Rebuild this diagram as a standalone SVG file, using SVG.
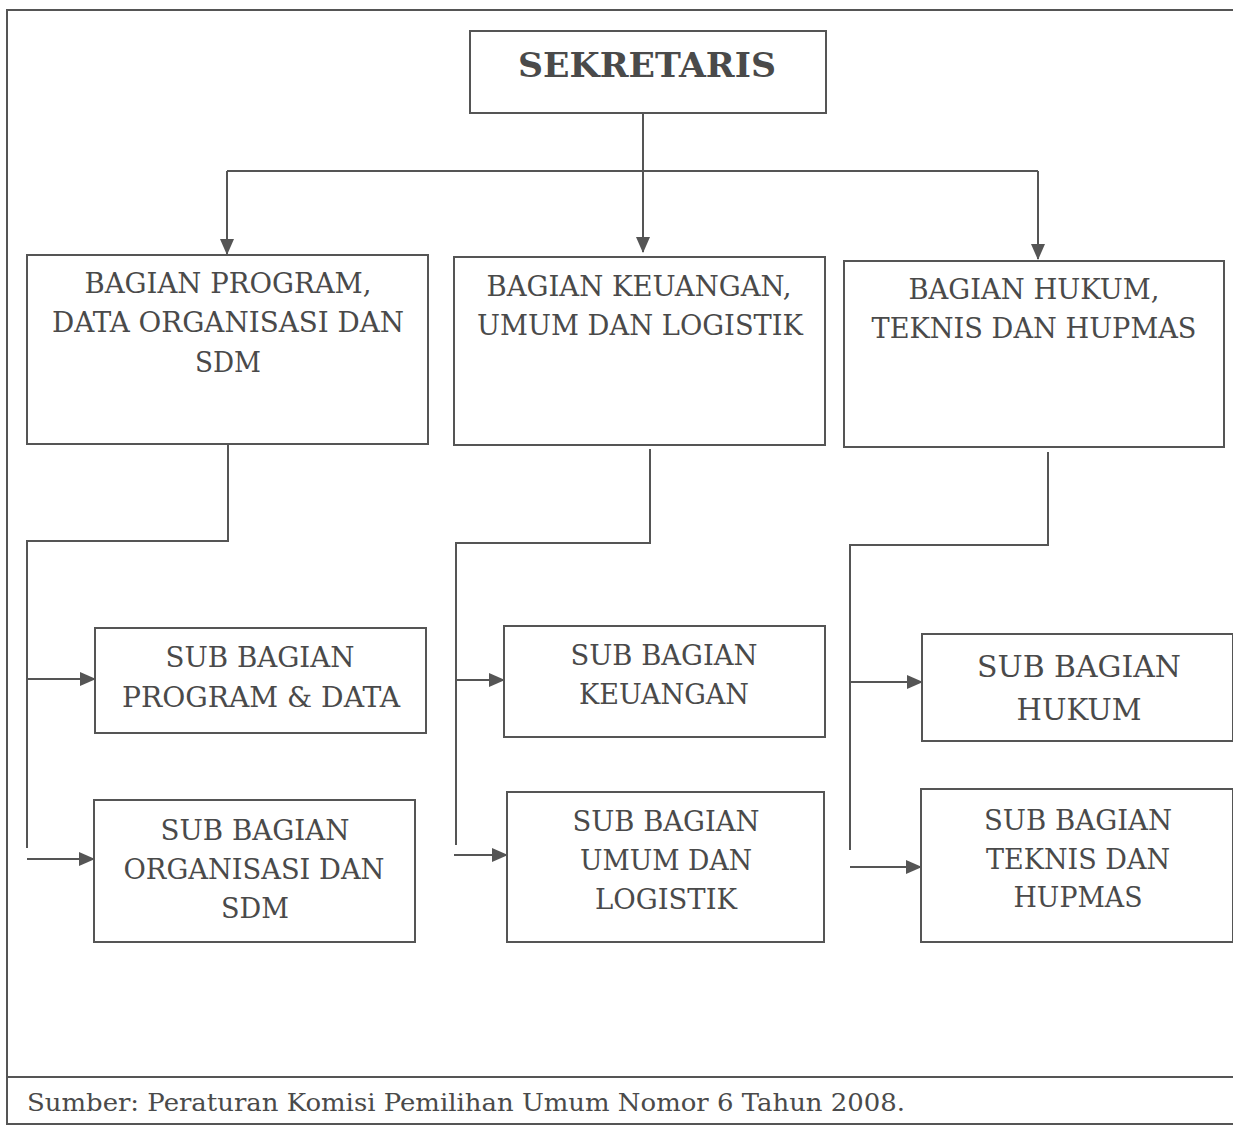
<svg xmlns="http://www.w3.org/2000/svg" width="1233" height="1126" viewBox="0 0 1233 1126">
<style>
.box{fill:#fff;stroke:#555;stroke-width:2}
.frame{fill:none;stroke:#555;stroke-width:2}
.conn{fill:none;stroke:#555;stroke-width:2}
.t{font-family:"DejaVu Serif","Liberation Serif",serif;font-size:27px;fill:#4a4a4a;text-anchor:middle}
.tb{font-family:"DejaVu Serif","Liberation Serif",serif;font-size:34px;font-weight:bold;fill:#4a4a4a;text-anchor:middle}
.cap{font-family:"DejaVu Serif","Liberation Serif",serif;font-size:24px;fill:#4a4a4a}
</style>
<defs>
<marker id="ah" markerWidth="16" markerHeight="14" refX="15" refY="7" orient="auto" markerUnits="userSpaceOnUse" viewBox="0 0 16 14">
<path d="M0,0 L16,7 L0,14 z" fill="#555"/>
</marker>
</defs>
<rect width="1233" height="1126" fill="#fff"/>
<g id="frame">
<path class="frame" d="M1233,10 H7 V1124 H1233"/>
<line class="frame" x1="7" y1="1077" x2="1233" y2="1077"/>
</g>
<g id="connectors">
<line class="conn" x1="643" y1="113" x2="643" y2="252" marker-end="url(#ah)"/>
<line class="conn" x1="227" y1="171" x2="1038" y2="171"/>
<line class="conn" x1="227" y1="171" x2="227" y2="254" marker-end="url(#ah)"/>
<line class="conn" x1="1038" y1="171" x2="1038" y2="259" marker-end="url(#ah)"/>
<path class="conn" d="M228,444 V541 H27 V848"/>
<line class="conn" x1="27" y1="679" x2="95" y2="679" marker-end="url(#ah)"/>
<line class="conn" x1="27" y1="859" x2="94" y2="859" marker-end="url(#ah)"/>
<path class="conn" d="M650,449 V543 H456 V845"/>
<line class="conn" x1="456" y1="680" x2="504" y2="680" marker-end="url(#ah)"/>
<line class="conn" x1="454" y1="855" x2="507" y2="855" marker-end="url(#ah)"/>
<path class="conn" d="M1048,452 V545 H850 V850"/>
<line class="conn" x1="850" y1="682" x2="922" y2="682" marker-end="url(#ah)"/>
<line class="conn" x1="850" y1="867" x2="921" y2="867" marker-end="url(#ah)"/>
</g>
<g id="sekretaris">
<rect class="box" x="470" y="31" width="356" height="82"/>
<text class="tb" x="647" y="77" textLength="258" lengthAdjust="spacingAndGlyphs">SEKRETARIS</text>
</g>
<g id="bagian-program">
<rect class="box" x="27" y="255" width="401" height="189"/>
<text class="t" x="228" y="293" textLength="287" lengthAdjust="spacingAndGlyphs">BAGIAN PROGRAM,</text>
<text class="t" x="228" y="332" textLength="352" lengthAdjust="spacingAndGlyphs">DATA ORGANISASI DAN</text>
<text class="t" x="228" y="372" textLength="66" lengthAdjust="spacingAndGlyphs">SDM</text>
</g>
<g id="bagian-keuangan">
<rect class="box" x="454" y="257" width="371" height="188"/>
<text class="t" x="639" y="296" textLength="305" lengthAdjust="spacingAndGlyphs">BAGIAN KEUANGAN,</text>
<text class="t" x="640" y="335" textLength="326" lengthAdjust="spacingAndGlyphs">UMUM DAN LOGISTIK</text>
</g>
<g id="bagian-hukum">
<rect class="box" x="844" y="261" width="380" height="186"/>
<text class="t" x="1034" y="299" textLength="251" lengthAdjust="spacingAndGlyphs">BAGIAN HUKUM,</text>
<text class="t" x="1034" y="338" textLength="325" lengthAdjust="spacingAndGlyphs">TEKNIS DAN HUPMAS</text>
</g>
<g id="sub-program-data">
<rect class="box" x="95" y="628" width="331" height="105"/>
<text class="t" x="260" y="667" textLength="189" lengthAdjust="spacingAndGlyphs">SUB BAGIAN</text>
<text class="t" x="261" y="707" textLength="278" lengthAdjust="spacingAndGlyphs">PROGRAM &amp; DATA</text>
</g>
<g id="sub-organisasi-sdm">
<rect class="box" x="94" y="800" width="321" height="142"/>
<text class="t" x="255" y="840" textLength="189" lengthAdjust="spacingAndGlyphs">SUB BAGIAN</text>
<text class="t" x="254" y="879" textLength="261" lengthAdjust="spacingAndGlyphs">ORGANISASI DAN</text>
<text class="t" x="255" y="918" textLength="68" lengthAdjust="spacingAndGlyphs">SDM</text>
</g>
<g id="sub-keuangan">
<rect class="box" x="504" y="626" width="321" height="111"/>
<text class="t" x="664" y="665" textLength="187" lengthAdjust="spacingAndGlyphs">SUB BAGIAN</text>
<text class="t" x="664" y="704" textLength="170" lengthAdjust="spacingAndGlyphs">KEUANGAN</text>
</g>
<g id="sub-umum-logistik">
<rect class="box" x="507" y="792" width="317" height="150"/>
<text class="t" x="666" y="831" textLength="187" lengthAdjust="spacingAndGlyphs">SUB BAGIAN</text>
<text class="t" x="666" y="870" textLength="172" lengthAdjust="spacingAndGlyphs">UMUM DAN</text>
<text class="t" x="666" y="909" textLength="142" lengthAdjust="spacingAndGlyphs">LOGISTIK</text>
</g>
<g id="sub-hukum">
<rect class="box" x="922" y="634" width="311" height="107"/>
<text class="t" x="1079" y="677" textLength="204" lengthAdjust="spacingAndGlyphs" style="font-size:30px">SUB BAGIAN</text>
<text class="t" x="1079" y="720" textLength="125" lengthAdjust="spacingAndGlyphs" style="font-size:30px">HUKUM</text>
</g>
<g id="sub-teknis-hupmas">
<rect class="box" x="921" y="789" width="312" height="153"/>
<text class="t" x="1078" y="830" textLength="188" lengthAdjust="spacingAndGlyphs">SUB BAGIAN</text>
<text class="t" x="1078" y="869" textLength="184" lengthAdjust="spacingAndGlyphs">TEKNIS DAN</text>
<text class="t" x="1078" y="907" textLength="129" lengthAdjust="spacingAndGlyphs">HUPMAS</text>
</g>
<g id="caption">
<text class="cap" x="27" y="1111" textLength="878" lengthAdjust="spacingAndGlyphs">Sumber: Peraturan Komisi Pemilihan Umum Nomor 6 Tahun 2008.</text>
</g>
</svg>
